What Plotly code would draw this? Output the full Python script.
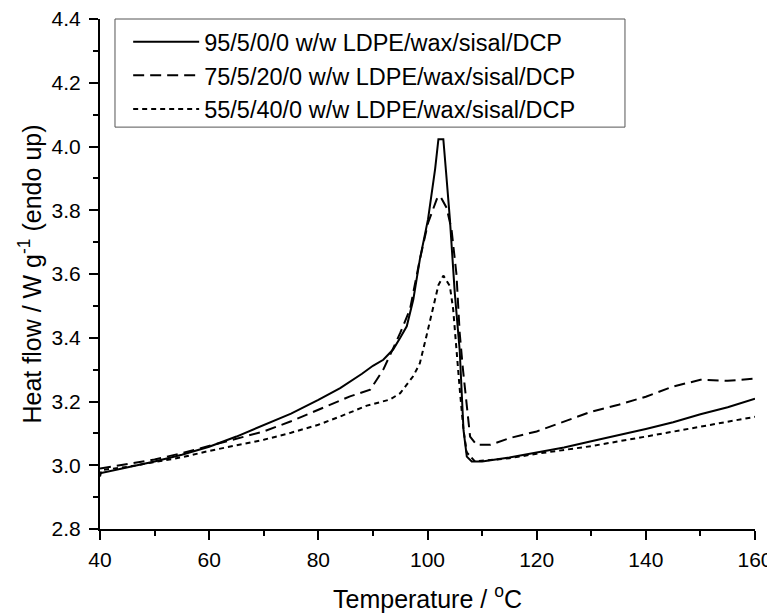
import plotly.graph_objects as go

# DSC heating curves
temp_a = [40, 45, 50, 55, 60, 65, 70, 75, 80, 84, 88, 90, 91.9, 93.7, 95, 96.2, 97.4,
          98.6, 100.1, 101.4, 102.0, 102.9, 103.4, 104.1, 105.0, 105.9, 106.6, 107.2,
          108.1, 110, 115, 120, 125, 130, 135, 140, 145, 150, 155, 160]
flow_a = [2.975, 2.993, 3.012, 3.033, 3.058, 3.09, 3.125, 3.162, 3.205, 3.242, 3.287,
          3.312, 3.331, 3.363, 3.40, 3.436, 3.52, 3.646, 3.772, 3.93, 4.023, 4.023,
          3.92, 3.772, 3.54, 3.36, 3.11, 3.027, 3.012, 3.012, 3.024, 3.039, 3.056,
          3.075, 3.094, 3.114, 3.135, 3.16, 3.182, 3.209]

temp_b = [40, 45, 50, 55, 60, 65, 70, 75, 80, 85.8, 89.5, 91.9, 95, 96.8, 98.6, 100.1,
          101.7, 102.3, 103.5, 104.4, 105.3, 105.9, 106.5, 107.2, 107.8, 109, 111.5,
          115, 120, 125, 130, 135, 140, 145, 150, 155, 160]
flow_b = [2.99, 3.003, 3.018, 3.038, 3.06, 3.083, 3.106, 3.138, 3.174, 3.216, 3.237,
          3.30, 3.415, 3.49, 3.646, 3.76, 3.835, 3.845, 3.808, 3.74, 3.60, 3.415,
          3.30, 3.195, 3.09, 3.064, 3.064, 3.085, 3.106, 3.137, 3.168, 3.19, 3.215,
          3.247, 3.268, 3.265, 3.272]

temp_c = [40, 40.3, 45, 50, 55, 60, 65, 70, 75, 80, 84, 88.9, 93.1, 95, 97.4, 98.6,
          99.8, 101.1, 102.0, 102.9, 104.1, 104.7, 105.3, 105.9, 106.6, 107.2, 108.7,
          115, 120, 130, 140, 150, 160]
flow_c = [2.965, 2.985, 2.995, 3.01, 3.025, 3.045, 3.062, 3.08, 3.102, 3.127, 3.153,
          3.187, 3.206, 3.226, 3.28, 3.32, 3.405, 3.50, 3.565, 3.595, 3.562, 3.49,
          3.36, 3.24, 3.11, 3.04, 3.012, 3.022, 3.036, 3.06, 3.09, 3.12, 3.152]

names = ["95/5/0/0 w/w LDPE/wax/sisal/DCP",
         "75/5/20/0 w/w LDPE/wax/sisal/DCP",
         "55/5/40/0 w/w LDPE/wax/sisal/DCP"]

x_ticks = [40, 60, 80, 100, 120, 140, 160]
y_ticks = [2.8, 3.0, 3.2, 3.4, 3.6, 3.8, 4.0, 4.2, 4.4]

fig = go.Figure()
fig.add_trace(go.Scatter(x=temp_a, y=flow_a, mode="lines", name=names[0],
                         line=dict(color="black", width=2)))
fig.add_trace(go.Scatter(x=temp_b, y=flow_b, mode="lines", name=names[1],
                         line=dict(color="black", width=2, dash="11px,6px")))
fig.add_trace(go.Scatter(x=temp_c, y=flow_c, mode="lines", name=names[2],
                         line=dict(color="black", width=2, dash="5px,4px")))

axis_common = dict(
    showgrid=False, zeroline=False, showline=True, linecolor="black", linewidth=2,
    ticks="outside", ticklen=9, tickwidth=2, tickcolor="black",
    tickfont=dict(size=21, color="black"), automargin=False,
    ticklabeloverflow="allow",
    minor=dict(ticks="outside", ticklen=5, tickwidth=2, tickcolor="black"),
)

fig.update_xaxes(range=[40, 160], tickvals=x_ticks, ticktext=[str(v) for v in x_ticks],
                 title=dict(text="Temperature / <sup>o</sup>C", font=dict(size=25, color="black"),
                            standoff=20),
                 ticklabelstandoff=2,
                 **axis_common)
fig.update_xaxes(minor_tickvals=[50, 70, 90, 110, 130, 150])
fig.update_yaxes(range=[2.8, 4.4], tickvals=y_ticks, ticktext=[f"{v:.1f}" for v in y_ticks],
                 title=dict(text="Heat flow / W g<sup>-1</sup> (endo up)",
                            font=dict(size=25, color="black"), standoff=3),
                 ticklabelstandoff=4,
                 **axis_common)
fig.update_yaxes(minor_tickvals=[2.9, 3.1, 3.3, 3.5, 3.7, 3.9, 4.1, 4.3])

# legend frame drawn as a shape so it can be wider than the entries
fig.add_shape(type="rect", xref="paper", yref="paper",
              x0=0.0229, x1=0.8015, y0=0.788, y1=1.0,
              line=dict(color="#555555", width=1), fillcolor="white", layer="below")

fig.update_layout(
    width=775, height=613,
    margin=dict(l=92, r=28, t=11, b=92),
    plot_bgcolor="white", paper_bgcolor="white",
    font=dict(family="Liberation Sans, Arial, sans-serif", color="black"),
    legend=dict(x=0.043, y=0.998, xanchor="left", yanchor="top",
                bgcolor="rgba(0,0,0,0)", borderwidth=0,
                font=dict(size=23.5, color="black"), itemwidth=66,
                tracegroupgap=0),
    showlegend=True,
)

fig.write_html("out.html")
